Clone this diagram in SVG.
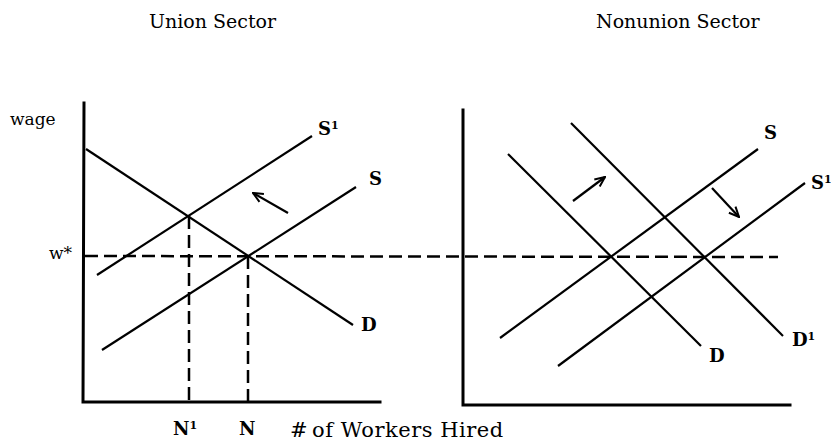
<svg xmlns="http://www.w3.org/2000/svg" width="831" height="441" viewBox="0 0 831 441">
<style>
text{font-family:"DejaVu Serif","Liberation Serif",serif;font-size:17px;fill:#000}
.title{font-size:19px}
.xlab{font-size:21px;letter-spacing:0.5px}
.lbl{font-size:18px;font-weight:bold}
.sup{font-size:11px}
.axis{stroke:#000;stroke-width:3;fill:none;stroke-linecap:square}
.curve{stroke:#000;stroke-width:2.2;fill:none}
.dash{stroke:#000;stroke-width:2.5;fill:none;stroke-dasharray:13,6}
</style>
<defs>
<marker id="ah" viewBox="0 0 12 12" refX="11" refY="6" markerWidth="12" markerHeight="12" orient="auto" markerUnits="userSpaceOnUse">
<path d="M1,1.5 L11,6 L1,10.5" fill="none" stroke="#000" stroke-width="2"/>
</marker>
</defs>
<text class="title" x="149" y="28">Union Sector</text>
<text class="title" x="596" y="28">Nonunion Sector</text>
<g id="union-panel">
<path class="axis" d="M84,103 L83,402 L380,402"/>
<text x="10" y="125">wage</text>
<text x="49" y="259">w*</text>
</g>
<g id="nonunion-panel">
<path class="axis" d="M463,110 L463,405 L790,405"/>
</g>
<g id="connectors">
<path class="dash" d="M85,256 L778,257"/>
<path class="dash" d="M189,216 L189,401"/>
<path class="dash" d="M248,256 L248,401"/>
<path class="curve" d="M86,149 L353,325"/>
<path class="curve" d="M97,275 L312,136"/>
<path class="curve" d="M102,350 L356,187"/>
<path class="curve" d="M288,213 L253,193" marker-end="url(#ah)"/>
<path class="curve" d="M508,154 L701,346"/>
<path class="curve" d="M571,123 L783,336"/>
<path class="curve" d="M500,338 L758,149"/>
<path class="curve" d="M558,366 L805,183"/>
<path class="curve" d="M573,201 L605,177" marker-end="url(#ah)"/>
<path class="curve" d="M712,188 L739,217" marker-end="url(#ah)"/>
</g>
<g id="union-labels">
<text class="lbl" x="318" y="135">S<tspan class="sup" dy="-6">1</tspan></text>
<text class="lbl" x="369" y="185">S</text>
<text class="lbl" x="361" y="331">D</text>
<text class="lbl" x="173" y="435">N<tspan class="sup" dy="-6">1</tspan></text>
<text class="lbl" x="239" y="435">N</text>
<text class="xlab" x="290" y="437">#<tspan dx="4">of Workers Hired</tspan></text>
</g>
<g id="nonunion-labels">
<text class="lbl" x="764" y="139">S</text>
<text class="lbl" x="811" y="189">S<tspan class="sup" dy="-6">1</tspan></text>
<text class="lbl" x="792" y="346">D<tspan class="sup" dy="-6">1</tspan></text>
<text class="lbl" x="709" y="362">D</text>
</g>
</svg>
